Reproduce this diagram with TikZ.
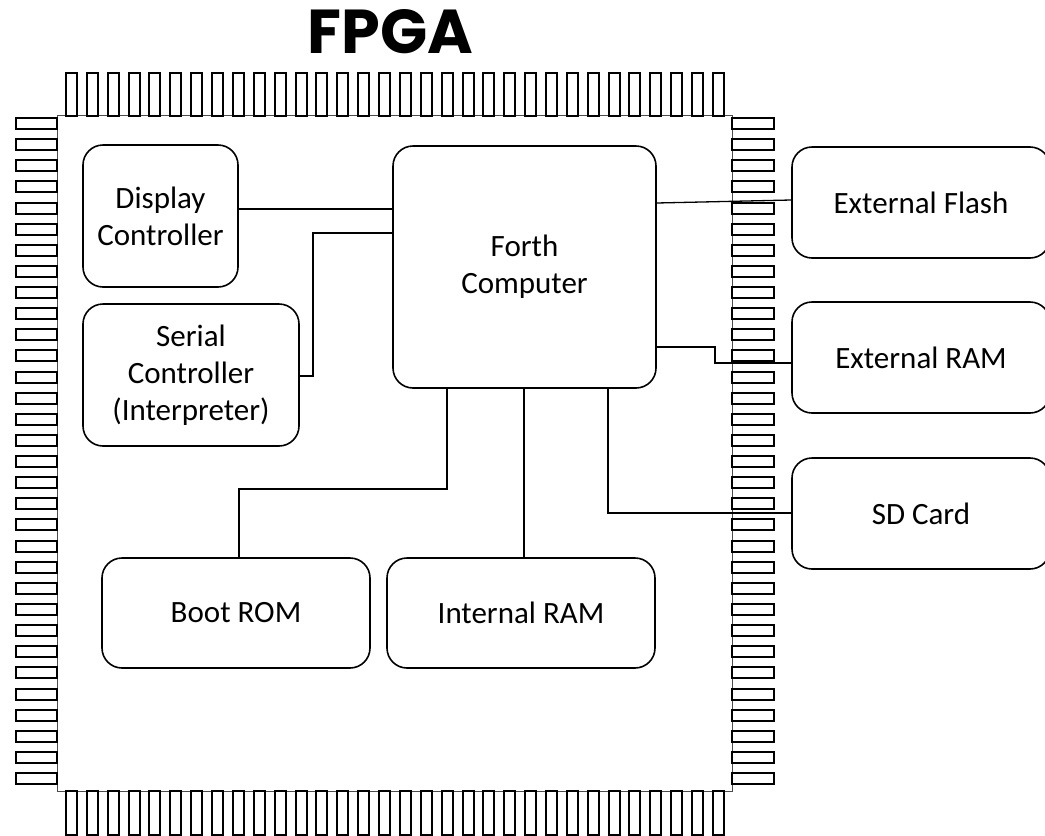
\documentclass[tikz,border=0pt]{standalone}
\usepackage{fontspec}
\setmainfont{Carlito}
\newfontfamily\titlefont{Poppins}
\begin{document}
\begin{tikzpicture}[x=1pt,y=-1pt,
  blk/.style={draw, line width=1.6pt, rounded corners=20pt, inner sep=0pt,
    align=center, font=\fontsize{31}{37}\selectfont},
  wire/.style={line width=1.3pt},
  pin/.style={draw, fill=white, line width=2pt},
  chip/.style={draw=black!70, line width=1pt}]
\useasboundingbox (0,0) rectangle (1045,836);

% package body and title
\draw[chip] (57,115) rectangle (732,791);
\node[font=\titlefont\bfseries\fontsize{62}{62}\selectfont, anchor=base] (title) at (390.5,53) {FPGA};

% pins on all four sides, snapped to whole units
\foreach \i in {0,...,31} {
  \pgfmathsetmacro{\px}{round(66+\i*20.87)}
  \pgfmathsetmacro{\py}{round(118+\i*21.13)}
  \draw[pin] (\px,73) rectangle ++(11,43);
  \draw[pin] (\px,791) rectangle ++(11,44);
  \draw[pin] (16,\py) rectangle ++(41,11);
  \draw[pin] (732,\py) rectangle ++(42,11);
}

% functional blocks
\node[blk, minimum width=155pt, minimum height=142pt] (disp) at (160.5,216) {Display\\Controller};
\node[blk, minimum width=216pt, minimum height=142pt] (serial) at (191,375) {Serial\\Controller\\(Interpreter)};
\node[blk, minimum width=263pt, minimum height=242pt] (forth) at (524.5,267) {Forth\\Computer};
\node[blk, minimum width=268pt, minimum height=110pt] (boot) at (236,613) {Boot ROM};
\node[blk, minimum width=268pt, minimum height=110pt] (iram) at (521,613) {Internal RAM};
\node[blk, minimum width=258pt, minimum height=111pt] (flash) at (921,202.5) {External Flash};
\node[blk, minimum width=258pt, minimum height=111pt] (eram) at (921,357.5) {External RAM};
\node[blk, minimum width=258pt, minimum height=111pt] (sd) at (921,513.5) {SD Card};

% connections
\draw[wire] (disp.east |- 0,209) -- (forth.west |- 0,209);
\draw[wire] (serial.east |- 0,376) -- (313,376) -- (313,233) -- (forth.west |- 0,233);
\draw[wire] (forth.east |- 0,203) -- (flash.west |- 0,200);
\draw[wire] (forth.east |- 0,347) -- (715,347) -- (715,363) -- (eram.west |- 0,363);
\draw[wire] (forth.south -| 608,0) -- (608,513) -- (sd.west |- 0,513);
\draw[wire] (forth.south -| 447,0) -- (447,489) -- (239,489) -- (boot.north -| 239,0);
\draw[wire] (forth.south -| 524,0) -- (iram.north -| 524,0);
\end{tikzpicture}
\end{document}
